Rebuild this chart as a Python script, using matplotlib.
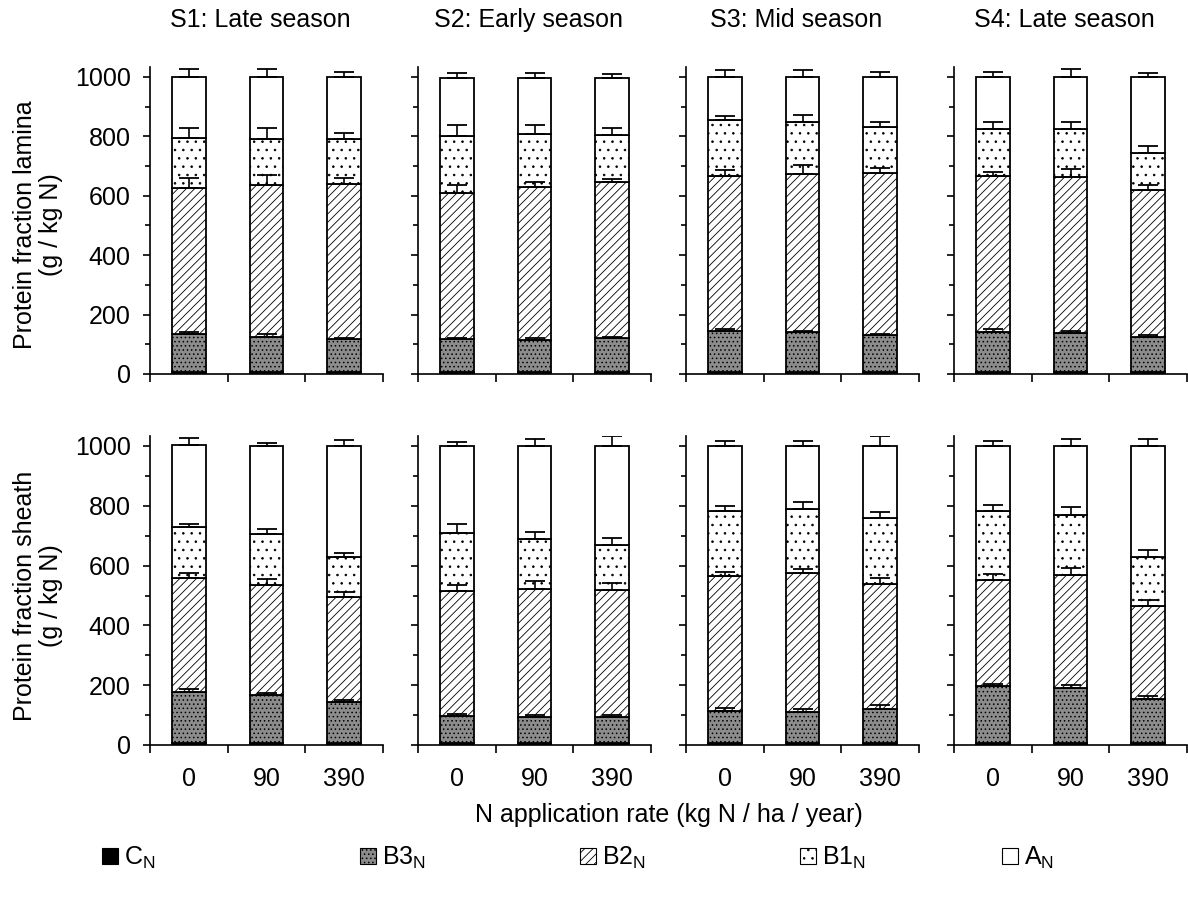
"""
Protein fractions (CNCPS) of lamina and sheath per season and N rate,
stacked bars with upward SD error bars.
"""

import matplotlib
matplotlib.use("Agg")
import matplotlib.pyplot as plt
import numpy as np
from matplotlib.patches import Patch

plt.rcParams["font.family"] = ["Liberation Sans", "DejaVu Sans"]
plt.rcParams["mathtext.fontset"] = "custom"
plt.rcParams["mathtext.rm"] = "Liberation Sans"
plt.rcParams["hatch.linewidth"] = 0.6

# ---------------------------------------------------------------------------
# data (g / kg N), per season: values for N rates 0, 90, 390
# ---------------------------------------------------------------------------
seasons = ["S1: Late season", "S2: Early season", "S3: Mid season", "S4: Late season"]
rates = ["0", "90", "390"]
fractions = ["C", "B3", "B2", "B1", "A"]

# lamina
lam_C = [[8, 8, 8], [8, 8, 8], [8, 8, 8], [8, 8, 8]]
lam_B3 = [[127, 118, 109], [110, 107, 112], [137, 132, 122], [132, 130, 117]]
lam_B2 = [[492, 510, 522], [492, 513, 525], [520, 532, 548], [528, 524, 493]]
lam_B1 = [[166, 155, 152], [190, 180, 160], [190, 178, 155], [157, 163, 127]]
lam_A = [[206, 208, 208], [195, 187, 190], [145, 150, 167], [175, 175, 255]]

lam_B3_sd = [[7, 7, 5], [4, 5, 5], [5, 5, 5], [10, 7, 5]]
lam_B2_sd = [[32, 34, 20], [25, 20, 10], [23, 33, 17], [12, 28, 19]]
lam_B1_sd = [[34, 38, 20], [38, 30, 23], [13, 23, 15], [23, 25, 23]]
lam_A_sd = [[27, 29, 18], [20, 18, 15], [22, 22, 18], [16, 26, 15]]

# sheath
sh_C = [[8, 8, 8], [8, 8, 8], [8, 8, 8], [8, 8, 8]]
sh_B3 = [[170, 159, 137], [89, 87, 87], [107, 104, 114], [189, 184, 145]]
sh_B2 = [[379, 367, 351], [418, 427, 425], [450, 463, 418], [355, 376, 312]]
sh_B1 = [[172, 171, 134], [193, 166, 148], [217, 215, 218], [231, 202, 165]]
sh_A = [[274, 296, 371], [292, 312, 332], [218, 210, 242], [218, 231, 371]]

sh_B3_sd = [[8, 6, 5], [8, 5, 7], [10, 10, 13], [8, 8, 12]]
sh_B2_sd = [[17, 22, 16], [20, 26, 23], [15, 15, 20], [19, 23, 19]]
sh_B1_sd = [[10, 18, 12], [30, 24, 24], [18, 22, 22], [21, 25, 22]]
sh_A_sd = [[23, 8, 19], [15, 25, 33], [18, 18, 35], [16, 21, 21]]

# ---------------------------------------------------------------------------
# styles
# ---------------------------------------------------------------------------
FACE = {"C": "black", "B3": "#8c8c8c", "B2": "white", "B1": "white", "A": "white"}
HATCH = {"C": None, "B3": "....", "B2": "////", "B1": "..", "A": None}
LEG_LABELS = [r"C$_\mathregular{N}$", r"B3$_\mathregular{N}$", r"B2$_\mathregular{N}$",
              r"B1$_\mathregular{N}$", r"A$_\mathregular{N}$"]
LEG_X = [102, 360, 580, 800, 1002]

FS = 18
LW = 1.3
W_PX, H_PX = 1188, 902
AX_LEFT = [150, 418, 686, 954]
AX_W = 233
ROW_BOTTOM = [374, 745]   # pixel y of value 0
ROW_SCALE = [0.297, 0.299]  # pixel per unit
YMAX = 1033


def stacked(ax, segs, sds):
    x = np.arange(3) + 0.5
    bottom = np.zeros(3)
    for name, vals, sd in zip(fractions, segs, sds):
        vals = np.asarray(vals, dtype=float)
        ax.bar(x, vals, width=0.43, bottom=bottom, color=FACE[name],
               hatch=HATCH[name], edgecolor="black", linewidth=LW, zorder=2)
        top = bottom + vals
        if sd is not None:
            ax.errorbar(x, top, yerr=[np.zeros(3), sd], fmt="none",
                        ecolor="black", elinewidth=1.2, capsize=7.5,
                        capthick=1.3, zorder=3)
        bottom = top


def style_axis(ax, show_y, show_x):
    ax.set_xlim(0, 3)
    ax.set_ylim(0, YMAX)
    for s in ["top", "right"]:
        ax.spines[s].set_visible(False)
    for s in ["left", "bottom"]:
        ax.spines[s].set_linewidth(1.2)
    ax.set_yticks(np.arange(0, 1001, 200))
    ax.set_yticks(np.arange(100, 1000, 200), minor=True)
    ax.tick_params(axis="y", which="major", length=5, width=1.2,
                   labelsize=FS, pad=9, labelleft=show_y)
    ax.tick_params(axis="y", which="minor", length=3.5, width=1.2)
    ax.set_xticks([0, 1, 2, 3])
    ax.set_xticks([0.5, 1.5, 2.5], minor=True)
    ax.set_xticklabels([])
    ax.set_xticklabels(rates if show_x else [], minor=True)
    ax.tick_params(axis="x", which="major", length=6, width=1.2)
    ax.tick_params(axis="x", which="minor", length=0, labelsize=FS, pad=16)


fig = plt.figure(figsize=(W_PX / 100, H_PX / 100), dpi=100)

rows = [
    (lam_C, lam_B3, lam_B2, lam_B1, lam_A, lam_B3_sd, lam_B2_sd, lam_B1_sd, lam_A_sd),
    (sh_C, sh_B3, sh_B2, sh_B1, sh_A, sh_B3_sd, sh_B2_sd, sh_B1_sd, sh_A_sd),
]

for r, row in enumerate(rows):
    cC, cB3, cB2, cB1, cA, sB3, sB2, sB1, sA = row
    h_px = YMAX * ROW_SCALE[r]
    for i in range(4):
        ax = fig.add_axes([AX_LEFT[i] / W_PX, 1 - ROW_BOTTOM[r] / H_PX,
                           AX_W / W_PX, h_px / H_PX])
        segs = [cC[i], cB3[i], cB2[i], cB1[i], cA[i]]
        sds = [None, sB3[i], sB2[i], sB1[i], sA[i]]
        stacked(ax, segs, sds)
        style_axis(ax, show_y=(i == 0), show_x=(r == 1))
        if r == 0:
            fig.text((AX_LEFT[i] + AX_W / 2 - 6) / W_PX, 1 - 20 / H_PX, seasons[i],
                     ha="center", va="center", fontsize=FS)

fig.text(38 / W_PX, 1 - 225 / H_PX, "Protein fraction lamina\n(g / kg N)",
         rotation=90, ha="center", va="center", fontsize=FS, multialignment="center",
         linespacing=1.15)
fig.text(38 / W_PX, 1 - 596 / H_PX, "Protein fraction sheath\n(g / kg N)",
         rotation=90, ha="center", va="center", fontsize=FS, multialignment="center",
         linespacing=1.15)
fig.text(669 / W_PX, 1 - 815 / H_PX, "N application rate (kg N / ha / year)",
         ha="center", va="center", fontsize=FS)

for name, label, xp in zip(fractions, LEG_LABELS, LEG_X):
    h = Patch(facecolor=FACE[name], hatch=HATCH[name], edgecolor="black", linewidth=0.8)
    fig.legend([h], [label], loc="center left", frameon=False, fontsize=FS,
               bbox_to_anchor=(xp / W_PX, 1 - 858 / H_PX),
               handlelength=0.65, handleheight=0.65, handletextpad=0.25,
               borderpad=0, borderaxespad=0)

fig.savefig("out.png", dpi=100, facecolor="white")
